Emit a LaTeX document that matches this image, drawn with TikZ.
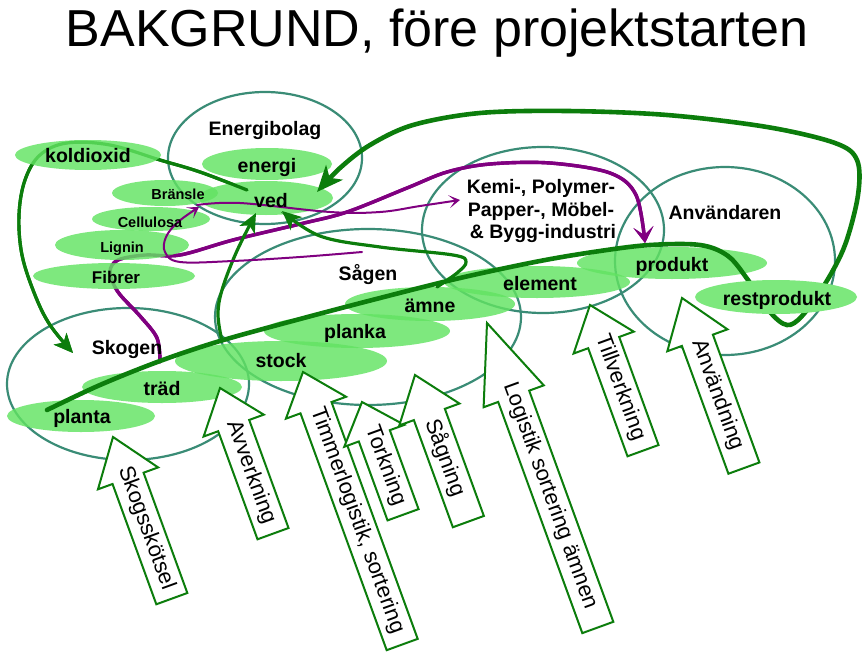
\documentclass[tikz,border=0pt]{standalone}
\usepackage{fontspec}
\setmainfont{Liberation Sans}
\usetikzlibrary{arrows.meta}
\definecolor{lgreen}{RGB}{98,227,98}
\definecolor{lgreenop}{RGB}{125,232,125}
\definecolor{dgreen}{RGB}{12,125,12}
\definecolor{tealc}{RGB}{58,140,118}
\definecolor{purp}{RGB}{128,0,128}
\newcommand{\blkarrow}[8]{%
  \begin{scope}[shift={(#2,#3)}, rotate=#4]
    \draw[barrow] (0,0) -- (#6,32) -- (#6,16.5) -- (#5,16.5) -- (#5,-16.5) -- (#6,-16.5) -- (#6,-32) -- cycle;
    \node[atext, transform shape] (#1) at (#7,0) {#8};
  \end{scope}}
\begin{document}
\begin{tikzpicture}[x=1pt,y=-1pt,
  lab/.style={font=\fontsize{19.5}{21}\selectfont\bfseries, inner sep=0pt, anchor=base},
  slab/.style={font=\fontsize{14.5}{16}\selectfont\bfseries, inner sep=0pt, anchor=base},
  atext/.style={font=\fontsize{22}{24}\selectfont, inner sep=0pt},
  barrow/.style={draw=dgreen, fill=white, line width=2pt, line join=miter},
  ring/.style={draw=tealc, line width=2.2pt},
  blob/.style={fill=lgreen, fill opacity=0.82},
  gline/.style={draw=dgreen, line width=3.2pt, line cap=round},
  bigline/.style={draw=dgreen, line width=4.6pt, line cap=round},
  pthick/.style={draw=purp, line width=3.4pt, line cap=round},
  pthin/.style={draw=purp, line width=2pt, line cap=round},
  gtip/.style={-{Stealth[length=19pt,width=17pt,inset=5pt]}},
  bigtip/.style={-{Stealth[length=26pt,width=22pt,inset=7pt]}},
  ptip/.style={-{Stealth[length=16pt,width=20pt,inset=8pt]}},
  thintip/.style={-{Stealth[length=11pt,width=13pt,inset=6pt]}}
]
\useasboundingbox (0,0) rectangle (866,658);
\fill[white] (0,0) rectangle (866,658);

% title
\node[font=\fontsize{52}{56}\selectfont, inner sep=0pt, anchor=base] (title) at (437,47) {BAKGRUND, före projektstarten};

% teal rings
\draw[ring] (265,158) ellipse [x radius=97pt, y radius=66pt];
\draw[ring] (128,384) ellipse [x radius=121pt, y radius=76pt];
\draw[ring] (368,317) ellipse [x radius=153pt, y radius=88pt];
\draw[ring] (543,230) ellipse [x radius=121pt, y radius=83pt];
\draw[ring] (725,261) ellipse [x radius=110pt, y radius=94pt];

% named end points
\coordinate (kolStart) at (247,190);
\coordinate (kolEnd) at (73,353);
\coordinate (purStart) at (160,362);
\coordinate (purEnd) at (645,243);
\coordinate (mainStart) at (47,410);
\coordinate (mainEnd) at (317,192);
\coordinate (skEnd) at (222,341);
\coordinate (vedTipA) at (256,213);
\coordinate (amneStart) at (437,287);
\coordinate (vedTipB) at (282,211);
\coordinate (sagEnd) at (362,252);
\coordinate (branTip) at (199,207);
\coordinate (branStart) at (197,205);
\coordinate (kemiTip) at (460,200);

% paths that pass behind blobs
\newcommand{\kolpath}{plot[smooth, tension=0.6] coordinates {(kolStart) (200,172) (160,160) (110,145) (67,143) (40,155) (25,180) (19,215) (22,255) (35,295) (50,325) (kolEnd)}}
\newcommand{\purpath}{plot[smooth, tension=0.55] coordinates {(purStart) (157,338) (140,316) (118,292) (110,272) (118,260) (145,255) (180,255) (233,240) (300,224) (347,212) (407,188) (447,172) (490,164) (550,163) (610,173) (636,195) (purEnd)}}
\draw[gline, gtip] \kolpath;
\draw[pthick, ptip] \purpath;

% green blobs
\fill[blob] (88,155) ellipse [x radius=73pt, y radius=15pt];
\fill[blob] (267,164) ellipse [x radius=65pt, y radius=16pt];
\fill[blob] (266,198) ellipse [x radius=67pt, y radius=17pt];
\fill[blob] (165,193) ellipse [x radius=53pt, y radius=13pt];
\fill[blob] (151,219) ellipse [x radius=59pt, y radius=12pt];
\fill[blob] (122,245) ellipse [x radius=67pt, y radius=15pt];
\fill[blob] (114,276) ellipse [x radius=81pt, y radius=13pt];
\fill[blob] (81,416) ellipse [x radius=74pt, y radius=16pt];
\fill[blob] (162,387) ellipse [x radius=80pt, y radius=16pt];
\fill[blob] (281,361) ellipse [x radius=106pt, y radius=20pt];
\fill[blob] (357,331) ellipse [x radius=93pt, y radius=17pt];
\fill[blob] (430,304) ellipse [x radius=85pt, y radius=17pt];
\fill[blob] (537,282) ellipse [x radius=93pt, y radius=16pt];
\fill[blob] (672,263) ellipse [x radius=95pt, y radius=16pt];

% redraw the behind-paths outside the blobs they pass under
\begin{scope}[even odd rule]
  \clip (0,0) rectangle (866,658) (88,155) ellipse [x radius=73pt, y radius=15pt];
  \draw[gline, gtip] \kolpath;
\end{scope}
\begin{scope}[even odd rule]
  \clip (0,0) rectangle (866,658) (122,245) ellipse [x radius=67pt, y radius=15pt] (114,276) ellipse [x radius=81pt, y radius=13pt];
  \draw[pthick, ptip] \purpath;
\end{scope}

% main flow line
\draw[bigline, bigtip] plot[smooth, tension=0.55] coordinates {(mainStart) (100,385) (160,361) (220,341) (300,319) (380,298) (460,278) (540,261) (600,251) (650,245) (700,245) (728,256) (748,280) (770,312) (787,325) (802,316) (825,284) (845,245) (858,195) (857,160) (835,143) (767,127) (667,115) (567,111) (480,113) (413,125) (370,145) (340,168) (mainEnd)};

% other green arrows
\draw[gline, gtip] plot[smooth, tension=0.6] coordinates {(skEnd) (218,315) (222,290) (236,253) (vedTipA)};
\draw[gline, gtip] plot[smooth, tension=0.6] coordinates {(amneStart) (457,273) (466,262) (453,255) (380,247) (320,236) (vedTipB)};

% thin purple arrows
\draw[pthin, thintip] plot[smooth, tension=0.6] coordinates {(sagEnd) (300,257) (233,261) (180,262) (165,252) (166,237) (178,222) (branTip)};
\draw[pthin, thintip] plot[smooth, tension=0.6] coordinates {(branStart) (240,203) (330,212) (380,212) (420,206) (kemiTip)};

% restprodukt on top
\fill[lgreenop] (776,297) ellipse [x radius=81pt, y radius=17pt];

% labels
\node[lab] (energibolag) at (265,135) {Energibolag};
\node[lab] (energi) at (267,172) {energi};
\node[lab] (ved) at (271,207) {ved};
\node[lab] (koldioxid) at (88,162) {koldioxid};
\node[slab] (bransle) at (178,199) {Bränsle};
\node[slab] (cellulosa) at (150,227) {Cellulosa};
\node[slab] (lignin) at (122,252) {Lignin};
\node[lab, font=\fontsize{17}{19}\selectfont\bfseries] (fibrer) at (116,283) {Fibrer};
\node[lab] (skogen) at (127,354) {Skogen};
\node[lab] (planta) at (82,423) {planta};
\node[lab] (trad) at (162,395) {träd};
\node[lab] (stock) at (281,367) {stock};
\node[lab] (planka) at (355,338) {planka};
\node[lab] (amne) at (430,312) {ämne};
\node[lab] (sagen) at (368,280) {Sågen};
\node[lab] (element) at (540,290) {element};
\node[lab] (produkt) at (672,271) {produkt};
\node[lab] (restprodukt) at (777,305) {restprodukt};
\node[lab] (anvandaren) at (725,219) {Användaren};
\node[lab] (kemi1) at (541,193) {Kemi-, Polymer-};
\node[lab] (kemi2) at (541,216) {Papper-, Möbel-};
\node[lab] (kemi3) at (543,238) {\& Bygg-industri};

% block arrows
\blkarrow{skogsskotsel}{113}{437}{-70}{172}{44}{97}{Skogsskötsel}
\blkarrow{avverkning}{220}{388}{-70}{155}{40}{90}{Avverkning}
\blkarrow{timmer}{303}{372}{-70}{290}{38}{158}{Timmerlogistik, sortering}
\blkarrow{torkning}{362}{402}{-70}{120}{36}{68}{Torkning}
\blkarrow{sagning}{415}{375}{-70}{156}{42}{88}{Sågning}
\blkarrow{logistik}{487}{323}{-70}{324}{78}{184}{Logistik sortering ämnen}
\blkarrow{tillverkning}{590}{305}{-70}{155}{40}{88}{Tillverkning}
\blkarrow{anvandning}{682}{298}{-70}{181}{45}{103}{Användning}
\end{tikzpicture}
\end{document}
